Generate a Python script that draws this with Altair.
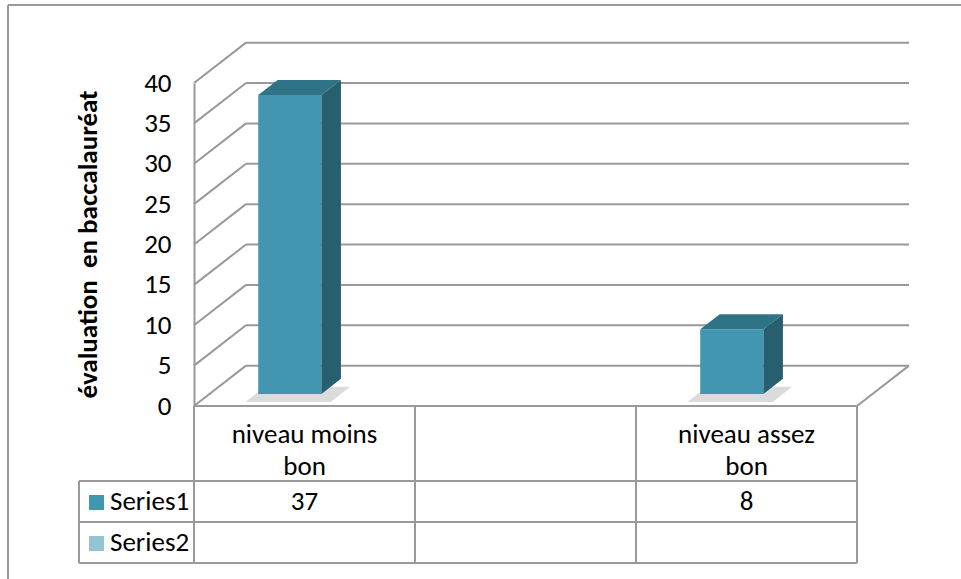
import altair as alt
import pandas as pd

# ---------------- data ----------------
categories = ["niveau moins bon", "", "niveau assez bon"]
series1 = [37, None, 8]
series2 = [None, None, None]
series_names = ["Series1", "Series2"]
series_colors = ["#4297B0", "#93C4D4"]
y_ticks = [0, 5, 10, 15, 20, 25, 30, 35, 40]
y_title = "évaluation\u00a0 en baccalauréat"

# ---------------- 3D styling constants ----------------
DX = 52 / 221      # depth shift (slot units)
DY = 5.0           # depth shift (value units)
F1, F2 = 0.3, 0.675  # bar front/back depth fractions
A, B = 0.22, 0.506   # bar left/right inside a slot
FRONT, TOP, SIDE = "#4296B0", "#2F7486", "#275F6E"
GRID = "#999999"
FONT = "Carlito, Lato, sans-serif"
FS = 27

N = len(categories)
xs = alt.Scale(domain=[0, N], nice=False, zero=False)
ys = alt.Scale(domain=[0, y_ticks[-1]], nice=False, zero=False)

yaxis = alt.Axis(values=y_ticks, grid=False, ticks=False, domain=True,
                 domainColor=GRID, domainWidth=2,
                 labelFont=FONT, labelFontSize=27, labelColor="#000000", labelPadding=23,
                 title=y_title, titleFont=FONT, titleFontSize=FS, titleFontWeight="bold",
                 titleColor="#000000", titleAngle=270, titleX=-106, titleY=161,
                 titleAlign="center", titleBaseline="middle")

bars = [(i, v) for i, v in enumerate(series1) if v is not None]
front_df = pd.DataFrame([{"bar": i, "x": i + A + DX * F1, "x2": i + B + DX * F1,
                          "y": DY * F1, "y2": v + DY * F1} for i, v in bars])
top_df = pd.DataFrame([{"bar": i, "x": i + A + DX * f, "x2": i + B + DX * f,
                        "y": v + DY * f} for i, v in bars for f in (F1, F2)])
side_df = pd.DataFrame([{"bar": i, "x": i + B + DX * f, "y": DY * f,
                         "y2": v + DY * f} for i, v in bars for f in (F1, F2)])
shadow_df = pd.DataFrame([{"bar": i, "x": i + A + DX * f - 0.03, "x2": i + B + DX * f + 0.07,
                           "y": DY * f - 0.4} for i, v in bars for f in (F1 - 0.12, F2 - 0.12)])

grid_df = pd.DataFrame({"v": y_ticks})
grid_df["vb"] = grid_df["v"] + DY
grid_df["x0"] = 0.0
grid_df["xb"] = DX
grid_df["xe"] = N + DX

X = lambda f: alt.X(f, type="quantitative", scale=xs, axis=None)
Y = lambda f: alt.Y(f, type="quantitative", scale=ys, axis=yaxis)

# back wall gridlines
back = alt.Chart(grid_df).mark_rule(color=GRID, strokeWidth=2).encode(
    x=X("xb"), x2="xe", y=Y("vb"))
# side wall diagonals
diag = alt.Chart(grid_df).mark_rule(color=GRID, strokeWidth=2).encode(
    x=X("x0"), x2="xb", y=Y("v"), y2="vb")
# floor right edge
floor_df = pd.DataFrame([{"x": N, "x2": N + DX, "y": 0, "y2": DY}])
floor = alt.Chart(floor_df).mark_rule(color=GRID, strokeWidth=2).encode(
    x=X("x"), x2="x2", y=Y("y"), y2="y2")

shadow = alt.Chart(shadow_df).mark_area(orient="horizontal", color="#6e6e6e", opacity=0.25).encode(
    y=Y("y"), x=X("x"), x2="x2", detail="bar:N")
front = alt.Chart(front_df).mark_rect(color=FRONT).encode(
    x=X("x"), x2="x2", y=Y("y"), y2="y2")
top = alt.Chart(top_df).mark_area(orient="horizontal", color=TOP).encode(
    y=Y("y"), x=X("x"), x2="x2", detail="bar:N")
side = alt.Chart(side_df).mark_area(orient="vertical", color=SIDE).encode(
    x=X("x"), y=Y("y2"), y2="y", detail="bar:N")

# ---------------- data table ----------------
ROW1, ROW2, ROW3 = 75, 116, 157
LEFT = -115
layers = []
top_line = pd.DataFrame([{"x": 0, "x2": N, "y": 0}])
layers.append(alt.Chart(top_line).mark_rule(color=GRID, strokeWidth=2).encode(
    x=X("x"), x2="x2", y=Y("y")))
for off in (ROW1, ROW2, ROW3):
    layers.append(alt.Chart(top_line).mark_rule(color=GRID, strokeWidth=2, yOffset=off,
                                                xOffset=LEFT).encode(
        x=X("x"), x2="x2", y=Y("y")))
vlines = pd.DataFrame({"x": list(range(N + 1)), "y": [0] * (N + 1)})
layers.append(alt.Chart(vlines).mark_rule(color=GRID, strokeWidth=2, y2Offset=ROW3).encode(
    x=X("x"), y=Y("y"), y2="y"))
layers.append(alt.Chart(vlines.iloc[:1]).mark_rule(color=GRID, strokeWidth=2, xOffset=LEFT,
                                                   yOffset=ROW1, y2Offset=ROW3).encode(
    x=X("x"), y=Y("y"), y2="y"))

cat_df = pd.DataFrame({"x": [i + 0.5 for i in range(N)],
                       "label": [c.rsplit(" ", 1)[0] + "\n" + c.rsplit(" ", 1)[1] if " " in c else c
                                 for c in categories],
                       "y": [0] * N})
layers.append(alt.Chart(cat_df).mark_text(font=FONT, fontSize=FS, color="#000000",
                                          lineBreak="\n", lineHeight=32, baseline="middle",
                                          yOffset=29).encode(
    x=X("x"), y=Y("y"), text="label:N"))

val_rows = []
for s, vals in enumerate([series1, series2]):
    for i, v in enumerate(vals):
        if v is not None:
            val_rows.append({"x": i + 0.5, "y": 0, "t": str(v), "s": s})
val_df = pd.DataFrame(val_rows)
layers.append(alt.Chart(val_df).mark_text(font=FONT, fontSize=FS, color="#000000",
                                          baseline="middle", yOffset=96).encode(
    x=X("x"), y=Y("y"), text="t:N"))

ser_df = pd.DataFrame({"name": series_names, "x": [0, 0], "y": [0, 0]})
for k, name in enumerate(series_names):
    off = 96 + 41 * k
    d = ser_df.iloc[[k]]
    layers.append(alt.Chart(d).mark_square(size=225, opacity=1, xOffset=-97.5, yOffset=off + 0.5).encode(
        x=X("x"), y=Y("y"),
        color=alt.Color("name:N", scale=alt.Scale(domain=series_names, range=series_colors),
                        legend=None)))
    layers.append(alt.Chart(d).mark_text(font=FONT, fontSize=FS, color="#000000", align="left",
                                         baseline="middle", xOffset=-84, yOffset=off).encode(
        x=X("x"), y=Y("y"), text="name:N"))

# outer frame
frame_df = pd.DataFrame([{"x": 0, "x2": N, "y": y_ticks[-1], "y2": 0}])
frame_top = alt.Chart(frame_df).mark_rule(color="#999999", strokeWidth=2, xOffset=-186,
                                          x2Offset=120, yOffset=-78).encode(
    x=X("x"), x2="x2", y=Y("y"))
frame_left = alt.Chart(frame_df).mark_rule(color="#999999", strokeWidth=2, xOffset=-186,
                                           yOffset=-78, y2Offset=190).encode(
    x=X("x"), y=Y("y"), y2="y2")

chart = alt.layer(back, diag, floor, shadow, front, top, side, *layers, frame_top, frame_left).properties(
    width=663, height=323,
    padding={"left": 194, "top": 83, "right": 104, "bottom": 173},
    autosize=alt.AutoSizeParams(type="none"),
    background="#FFFFFF",
).configure_view(strokeWidth=0)

chart.save("out.html", embed_options={"renderer": "svg", "actions": False})
